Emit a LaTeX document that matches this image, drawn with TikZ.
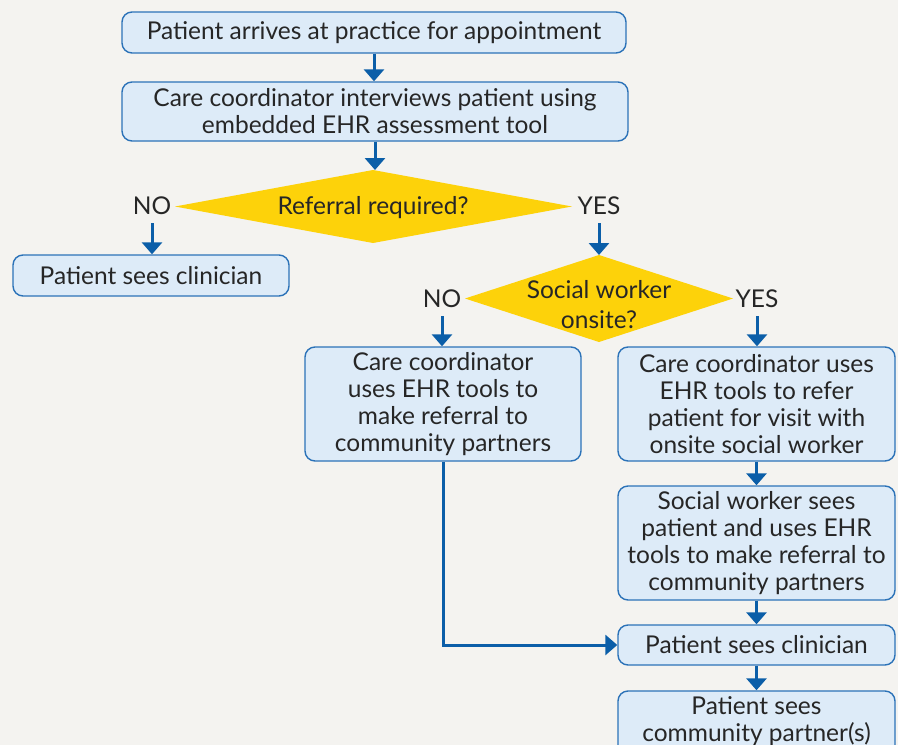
\documentclass[tikz,border=0pt]{standalone}
\usepackage{fontspec}
\setmainfont{Lato}
\usetikzlibrary{arrows.meta}
\definecolor{bgc}{HTML}{F4F3F0}
\definecolor{boxfill}{HTML}{DDEBF8}
\definecolor{boxline}{HTML}{2B72B8}
\definecolor{arrc}{HTML}{0B5EA8}
\definecolor{gold}{HTML}{FDD20A}
\definecolor{txt}{HTML}{262626}
\tikzset{
  box/.style={draw=boxline, line width=1.4pt, fill=boxfill, rounded corners=10pt, align=center, text=txt, inner sep=0pt, font=\fontsize{24.5}{27}\selectfont},
  dtext/.style={align=center, text=txt, inner sep=0pt, font=\fontsize{24.5}{30}\selectfont},
  lbl/.style={text=txt, inner sep=0pt, font=\fontsize{24.5}{27}\selectfont},
  arr/.style={draw=arrc, line width=3pt, -{Triangle[width=20pt,length=12pt]}},
}
\begin{document}
\begin{tikzpicture}[x=1pt,y=-1pt]
\useasboundingbox (0,0) rectangle (898,745);
\clip (0,0) rectangle (898,745);
\fill[bgc] (0,0) rectangle (898,745);

\node[box, minimum width=504pt, minimum height=41pt] (b1) at (374,32.5) {Patient arrives at practice for appointment};
\node[box, minimum width=506pt, minimum height=59pt] (b2) at (375,111.5) {Care coordinator interviews patient using\\embedded EHR assessment tool};

% diamond 1
\coordinate (d1t) at (373,170);
\coordinate (d1b) at (373,243);
\coordinate (d1l) at (175,206.5);
\coordinate (d1r) at (572,206.5);
\fill[gold] (d1t) -- (d1r) -- (d1b) -- (d1l) -- cycle;
\node[dtext] (d1) at (373,207.5) {Referral required?};
\node[lbl] (no1) at (152,206) {NO};
\node[lbl] (yes1) at (599,206) {YES};
\node[box, minimum width=276pt, minimum height=41pt] (c1) at (151,275.5) {Patient sees clinician};

% diamond 2
\coordinate (d2t) at (599,255);
\coordinate (d2b) at (599,342);
\coordinate (d2l) at (465,298.5);
\coordinate (d2r) at (733,298.5);
\fill[gold] (d2t) -- (d2r) -- (d2b) -- (d2l) -- cycle;
\node[dtext] (d2) at (599,304.5) {Social worker\\onsite?};
\node[lbl] (no2) at (442,299) {NO};
\node[lbl] (yes2) at (757,299) {YES};

\node[box, minimum width=276pt, minimum height=114pt] (l1) at (443,404) {Care coordinator\\uses EHR tools to\\make referral to\\community partners};
\node[box, minimum width=277pt, minimum height=114pt] (r1) at (756.5,404) {Care coordinator uses\\EHR tools to refer\\patient for visit with\\onsite social worker};
\node[box, minimum width=277pt, minimum height=114pt] (r2) at (756.5,543) {Social worker sees\\patient and uses EHR\\tools to make referral to\\community partners};
\node[box, minimum width=277pt, minimum height=40pt] (r3) at (756.5,645) {Patient sees clinician};
\node[box, minimum width=277pt, minimum height=84pt] (r4) at (756.5,733) {};
\node[lbl, align=center, anchor=north] (r4t) at (756.5,696) {Patient sees\\community partner(s)};

\draw[arr] (b1.south) -- (b1.south |- b2.north);
\draw[arr] (b2.south) -- (b2.south |- d1t);
\draw[arr] ([yshift=-8pt]no1.south) -- (no1.south |- c1.north);
\draw[arr] ([yshift=-8pt]yes1.south) -- (yes1.south |- d2t);
\draw[arr] ([yshift=-8pt]no2.south) -- (no2.south |- l1.north);
\draw[arr] ([yshift=-8pt]yes2.south) -- (yes2.south |- r1.north);
\draw[arr] (r1.south) -- (r2.north);
\draw[arr] (r2.south) -- (r3.north);
\draw[arr] (r3.south) -- (r4.north);
\draw[arr] (l1.south) |- (r3.west);
\end{tikzpicture}
\end{document}
